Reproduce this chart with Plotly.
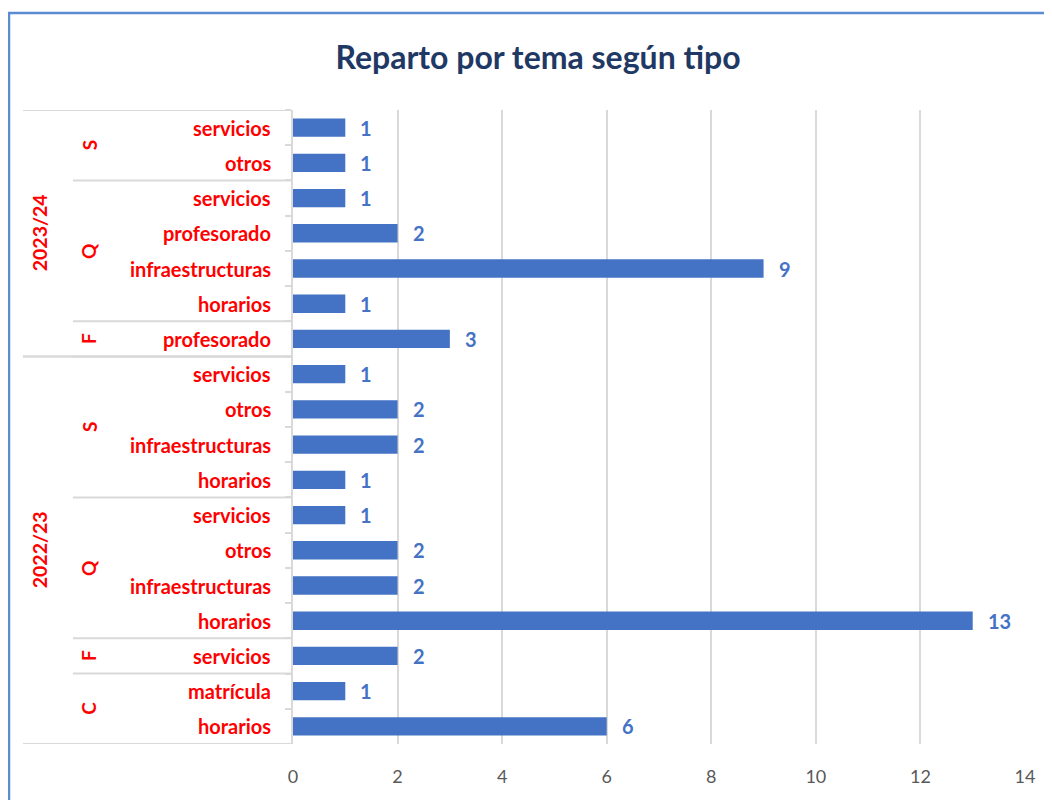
import plotly.graph_objects as go

# Data (top to bottom as displayed)
years = ["2023/24"] * 7 + ["2022/23"] * 11
tipos = ["S", "S", "Q", "Q", "Q", "Q", "F",
         "S", "S", "S", "S", "Q", "Q", "Q", "Q", "F", "C", "C"]
temas = ["servicios", "otros", "servicios", "profesorado", "infraestructuras", "horarios", "profesorado",
         "servicios", "otros", "infraestructuras", "horarios",
         "servicios", "otros", "infraestructuras", "horarios",
         "servicios", "matrícula", "horarios"]
values = [1, 1, 1, 2, 9, 1, 3,
          1, 2, 2, 1,
          1, 2, 2, 13,
          2, 1, 6]
x_ticks = [0, 2, 4, 6, 8, 10, 12, 14]
title_text = "Reparto por tema según tipo"

keys = [f"{y}|{t}|{m}" for y, t, m in zip(years, tipos, temas)]
n = len(keys)

# The page body has an 8px margin; the figure is placed at (8, 8) in the window.
OFF = 8
W, H = 1052 - OFF, 800 - OFF
ML = 293 - OFF
MT = 110 - OFF
MR = W - (1025 - OFF)
MB = H - (744 - OFF)
PW = W - ML - MR
PH = H - MT - MB


def px_to_paper_x(px):  # px: window coordinate
    return (px - OFF - ML) / PW


def py_to_paper_y(py):
    return (H - MB - (py - OFF)) / PH


BAR = "#4472C4"
RED = "#FF0000"
GRID = "#D9D9D9"
FONT = "Lato"

fig = go.Figure()
fig.add_trace(go.Bar(
    x=values, y=keys, orientation="h",
    marker=dict(color=BAR, line=dict(width=0)),
    width=0.52, hoverinfo="x+y", showlegend=False,
))

annotations = []
shapes = []

# value labels
for k, v in zip(keys, values):
    annotations.append(dict(
        x=v, y=k, xref="x", yref="y", text=f"<b>{v}</b>", showarrow=False,
        xanchor="left", yanchor="middle", xshift=13,
        font=dict(family=FONT, size=20, color=BAR)))

# tema labels
for k, m in zip(keys, temas):
    annotations.append(dict(
        x=0, y=k, xref="paper", yref="y", text=f"<b>{m}</b>", showarrow=False,
        xanchor="right", yanchor="middle", xshift=-20,
        font=dict(family=FONT, size=20, color=RED)))


def groups(labels_fn):
    out = []
    start = 0
    for i in range(1, n + 1):
        if i == n or labels_fn(i) != labels_fn(start):
            out.append((start, i - 1, labels_fn(start)))
            start = i
    return out


tipo_groups = groups(lambda i: (years[i], tipos[i]))
year_groups = groups(lambda i: years[i])

x_tipo_line = px_to_paper_x(73)
x_year_line = px_to_paper_x(23)

for s, e, (yr, tp) in tipo_groups:
    annotations.append(dict(
        x=px_to_paper_x(89), y=(s + e) / 2, xref="paper", yref="y",
        text=f"<b>{tp}</b>", showarrow=False, textangle=-90,
        xanchor="center", yanchor="middle",
        font=dict(family=FONT, size=19, color=RED)))
    shapes.append(dict(type="line", xref="paper", yref="y",
                       x0=x_tipo_line, x1=0, y0=e + 0.5, y1=e + 0.5,
                       line=dict(color=GRID, width=2)))

for s, e, yr in year_groups:
    annotations.append(dict(
        x=px_to_paper_x(39), y=(s + e) / 2, xref="paper", yref="y",
        text=f"<b>{yr}</b>", showarrow=False, textangle=-90,
        xanchor="center", yanchor="middle",
        font=dict(family=FONT, size=19.5, color=RED)))
    shapes.append(dict(type="line", xref="paper", yref="y",
                       x0=x_year_line, x1=0, y0=e + 0.5, y1=e + 0.5,
                       line=dict(color=GRID, width=2)))
    shapes.append(dict(type="line", xref="paper", yref="y",
                       x0=x_year_line, x1=0, y0=s - 0.5, y1=s - 0.5,
                       line=dict(color=GRID, width=2)))

# chart frame (blue border, left and top visible)
shapes.append(dict(type="rect", xref="paper", yref="paper",
                   x0=px_to_paper_x(9), x1=px_to_paper_x(1300),
                   y0=py_to_paper_y(1100), y1=py_to_paper_y(13),
                   line=dict(color="#5B8BD0", width=2.5), fillcolor="rgba(0,0,0,0)",
                   layer="below"))

fig.update_layout(
    width=W, height=H,
    margin=dict(l=ML, r=MR, t=MT, b=MB),
    paper_bgcolor="white", plot_bgcolor="white",
    title=dict(text=f"<b>{title_text}</b>", x=(538 - OFF) / W, xref="container",
               y=1 - (58 - OFF) / H, yref="container", yanchor="middle", xanchor="center",
               font=dict(family=FONT, size=32, color="#1F3864")),
    xaxis=dict(range=[0, 14], tickvals=x_ticks, showgrid=True, gridcolor=GRID,
               gridwidth=1.5, zeroline=False, showline=False,
               ticks="outside", ticklen=16, tickcolor="rgba(0,0,0,0)",
               tickfont=dict(family=FONT, size=18, color="#595959")),
    yaxis=dict(type="category", categoryorder="array", categoryarray=keys,
               range=[n - 0.5, -0.5], showticklabels=False,
               ticks="outside", tickson="boundaries", ticklen=6,
               tickcolor=GRID, tickwidth=2, showgrid=False,
               showline=True, linecolor=GRID, linewidth=2),
    annotations=annotations, shapes=shapes, bargap=0.48,
)

fig.write_html("out.html")
